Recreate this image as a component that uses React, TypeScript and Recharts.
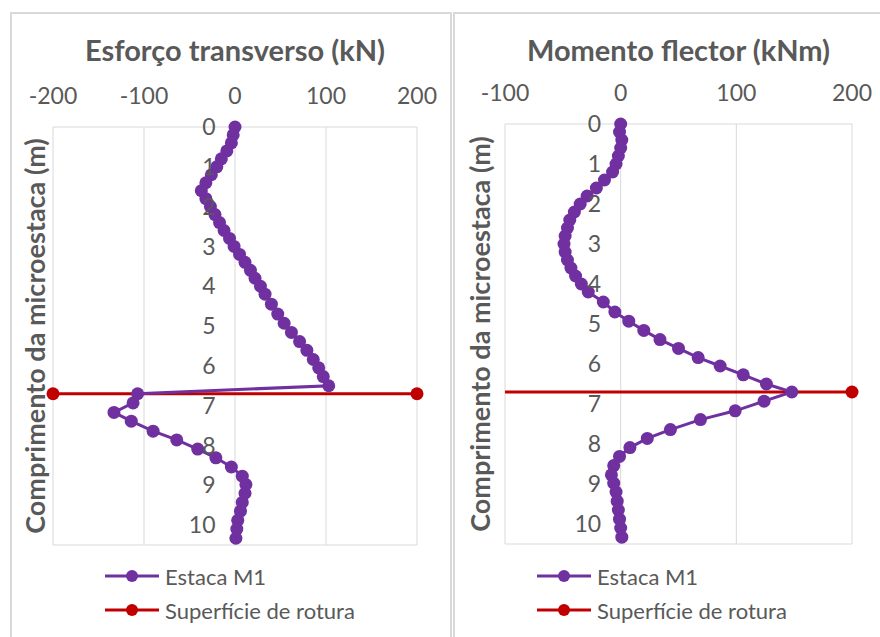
import { ScatterChart, Scatter, XAxis, YAxis, ZAxis, CartesianGrid, LabelList } from 'recharts'

// profundidade dos nós (m)
const depths = [
  0, 0.2, 0.4, 0.6, 0.8, 1.0, 1.2, 1.4, 1.6, 1.8, 2.0, 2.2, 2.4, 2.6, 2.8, 3.0, 3.2, 3.4, 3.6, 3.8, 4.0, 4.2,
  4.45, 4.7, 4.93, 5.16, 5.39, 5.61, 5.84, 6.05, 6.27, 6.5,
  6.7, 6.93, 7.17, 7.39, 7.64, 7.86, 8.09, 8.31, 8.54, 8.77, 8.98, 9.2, 9.43, 9.65, 9.88, 10.1, 10.33,
]

// esforço transverso (kN)
const shearValues = [
  0, -2, -4, -9, -15, -20, -26, -32, -37, -32, -27, -22, -17, -12, -6, -1, 5, 11, 17, 22, 28, 33,
  40, 47, 54, 62, 71, 79, 86, 92, 97, 103,
  -107, -112, -133, -114, -90, -64, -41, -21, -4, 8, 12, 11, 8, 6, 3, 2, 1,
]

// momento flector (kNm)
const momentValues = [
  0, -1, 1, 0, -2, -4, -7, -14, -21, -29, -35, -40, -44, -46, -48, -49, -48, -46, -43, -39, -34, -28,
  -15, -5, 7, 20, 34, 50, 67, 86, 106, 126,
  148, 124, 99, 69, 43, 23, 8, -1, -6, -8, -6, -4, -3, -2, -1, 0, 1,
]

const ruptureDepth = 6.7
const shearRuptureX = [-200, 200]
const momentRuptureX = [-100, 200]

const depthTicks = [0, 1, 2, 3, 4, 5, 6, 7, 8, 9, 10]
const shearTicks = [-200, -100, 0, 100, 200]
const momentTicks = [-100, 0, 100, 200]

const PURPLE = '#7030A0'
const RED = '#C00000'
const GREY = '#595959'
const FONT = 'Lato, "Open Sans", sans-serif'

const seriesNames = ['Estaca M1', 'Superfície de rotura']

type PanelProps = {
  left: number
  width: number
  title: string
  values: number[]
  xDomain: [number, number]
  xTicks: number[]
  ruptureX: number[]
  ruptureStartMarker: boolean
  margin: { top: number; right: number; bottom: number; left: number }
  yWidth: number
  legendLeft: number
}

function values2rows(values: number[]) {
  return values.map((v, i) => ({ v, depth: depths[i] }))
}

const Panel = (p: PanelProps) => {
  const data = values2rows(p.values)
  const rupture = p.ruptureX.map((v) => ({ v, depth: ruptureDepth }))
  const tickRows = depthTicks.map((d) => ({ v: 0, depth: d }))
  const plotLeft = p.margin.left + p.yWidth
  const plotRight = p.width - p.margin.right

  const purpleDot = (props: any) => <circle cx={props.cx} cy={props.cy} r={6.5} fill={PURPLE} />
  const ruptureDot = (props: any) => {
    // no gráfico do momento o primeiro ponto fica fora do eixo: sem marcador
    if (!p.ruptureStartMarker && props.payload.v === p.ruptureX[0]) return <g />
    return <circle cx={props.cx} cy={props.cy} r={6.5} fill={RED} />
  }

  return (
    <div style={{ position: 'absolute', left: p.left, top: 0, width: p.width, height: 637 }}>
      <div
        style={{
          position: 'absolute',
          left: plotLeft - 20,
          width: plotRight - plotLeft + 40,
          top: 30,
          textAlign: 'center',
          fontFamily: FONT,
          fontWeight: 700,
          fontSize: 29,
          lineHeight: '40px',
          color: GREY,
          whiteSpace: 'nowrap',
        }}
      >
        {p.title}
      </div>
      <ScatterChart width={p.width} height={637} margin={p.margin}>
        <CartesianGrid stroke="#d9d9d9" />
        <XAxis
          type="number"
          dataKey="v"
          orientation="top"
          domain={p.xDomain}
          ticks={p.xTicks}
          height={30}
          axisLine={false}
          tickLine={false}
          tickMargin={17}
          tick={{ fill: GREY, fontSize: 23, fontFamily: FONT }}
        />
        <YAxis
          type="number"
          dataKey="depth"
          reversed
          domain={[0, 10.5]}
          ticks={depthTicks}
          width={p.yWidth}
          axisLine={false}
          tickLine={false}
          tick={false}
          label={{
            value: 'Comprimento da microestaca (m)',
            angle: -90,
            position: 'center',
            fill: GREY,
            fontSize: 27,
            fontWeight: 700,
            fontFamily: FONT,
          }}
        />
        <ZAxis range={[110, 110]} />
        <Scatter data={tickRows} shape={() => <g />} legendType="none" isAnimationActive={false}>
          <LabelList dataKey="depth" position="left" offset={15} fill={GREY} fontSize={23} fontFamily={FONT} />
        </Scatter>
        <Scatter
          name={seriesNames[1]}
          data={rupture}
          fill={RED}
          line={{ stroke: RED, strokeWidth: 3 }}
          lineType="joint"
          shape={ruptureDot}
          isAnimationActive={false}
        />
        <Scatter
          name={seriesNames[0]}
          data={data}
          fill={PURPLE}
          line={{ stroke: PURPLE, strokeWidth: 3 }}
          lineType="joint"
          shape={purpleDot}
          isAnimationActive={false}
        />
      </ScatterChart>
      <LegendBox left={p.legendLeft} />
    </div>
  )
}

const LegendBox = ({ left }: { left: number }) => {
  const colors = [PURPLE, RED]
  return (
    <div style={{ position: 'absolute', left, top: 559, fontFamily: FONT, fontSize: 22, color: GREY }}>
      {seriesNames.map((name, i) => (
        <div key={name} style={{ display: 'flex', alignItems: 'center', height: 34 }}>
          <svg width={58} height={20} style={{ marginRight: 4 }}>
            <line x1={2} y1={10} x2={56} y2={10} stroke={colors[i]} strokeWidth={3} />
            <circle cx={29} cy={10} r={6} fill={colors[i]} />
          </svg>
          <span>{name}</span>
        </div>
      ))}
    </div>
  )
}

export default function App() {
  return (
    <div style={{ position: 'absolute', left: 0, top: 0, width: 880, height: 637, background: '#fff', overflow: 'hidden' }}>
      <div style={{ position: 'absolute', left: 10, top: 12, width: 438, height: 660, border: '2px solid #d9d9d9' }} />
      <div style={{ position: 'absolute', left: 453, top: 12, width: 440, height: 660, border: '2px solid #d9d9d9' }} />
      <Panel
        left={0}
        width={440}
        title="Esforço transverso (kN)"
        values={shearValues}
        xDomain={[-200, 200]}
        xTicks={shearTicks}
        ruptureX={shearRuptureX}
        ruptureStartMarker={true}
        margin={{ top: 97, right: 23, bottom: 92, left: 17 }}
        yWidth={36}
        legendLeft={103}
      />
      <Panel
        left={455}
        width={425}
        title="Momento flector (kNm)"
        values={momentValues}
        xDomain={[-100, 200]}
        xTicks={momentTicks}
        ruptureX={momentRuptureX}
        ruptureStartMarker={false}
        margin={{ top: 94, right: 28, bottom: 93, left: 0 }}
        yWidth={50}
        legendLeft={80}
      />
    </div>
  )
}
